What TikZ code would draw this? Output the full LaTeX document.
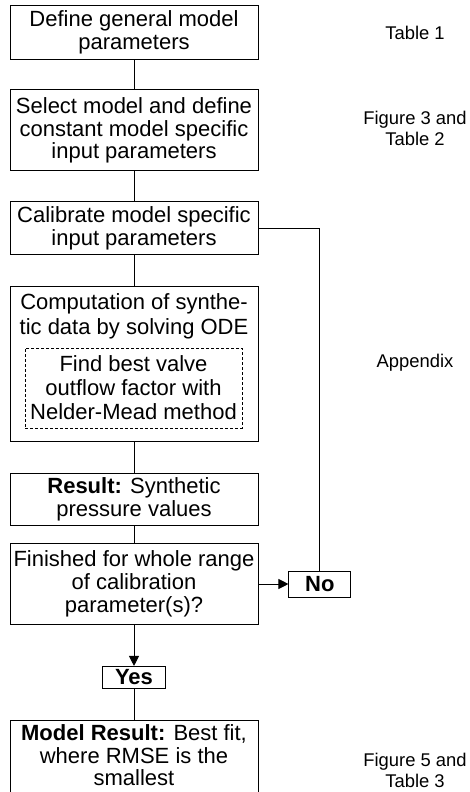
\documentclass[tikz,border=0pt]{standalone}
\usepackage{fontspec}
\setmainfont{Liberation Sans}
\usepackage{tikz}
\usetikzlibrary{arrows.meta, positioning}

\begin{document}
\begin{tikzpicture}[x=1pt, y=-1pt,
      stepbox/.style={rectangle, draw, line width=0.9pt, minimum width=248pt,
                      inner sep=0pt, align=center,
                      font=\fontsize{22}{22.8}\selectfont},
      bodytext/.style={align=center, inner sep=0pt,
                       font=\fontsize{22}{22.6}\selectfont},
      answer/.style={rectangle, draw, line width=0.9pt, inner sep=0pt,
                     font=\fontsize{22}{22.8}\selectfont\bfseries},
      dashbox/.style={rectangle, draw, dash pattern=on 3pt off 2pt,
                      line width=0.8pt, minimum width=217pt, minimum height=80pt,
                      inner sep=0pt, align=center,
                      font=\fontsize{22}{24}\selectfont},
      note/.style={align=center, font=\fontsize{18.4}{21}\selectfont},
      line/.style={line width=0.9pt},
      arr/.style={-{Triangle[length=10pt,width=10pt]}, line width=0.9pt},
      node distance=30pt
    ]
    \useasboundingbox (0,0) rectangle (470,792);

    % main column
    \node[stepbox, minimum height=54pt] (general) at (134,32)
        {Define general model\\parameters};
    \node[stepbox, minimum height=81pt, below=30pt of general] (select)
        {Select model and define\\constant model specific\\input parameters};
    \node[stepbox, minimum height=53pt, below=30pt of select] (calib)
        {Calibrate model specific\\input parameters};
    \node[stepbox, minimum height=155pt, below=31pt of calib] (ode) {};
    \node[bodytext, font=\fontsize{22}{25}\selectfont] (odetext) at (134,316)
        {Computation of synthe-\\tic data by solving ODE};
    \node[dashbox] (nelder) at (133.5,388)
        {Find best valve\\outflow factor with\\Nelder-Mead method};
    \node[stepbox, minimum height=52pt, below=31pt of ode] (synth)
        {\textbf{Result:} Synthetic\\pressure values};
    \node[stepbox, minimum height=81pt, below=17pt of synth] (finished)
        {Finished for whole range\\of calibration\\parameter(s)?};
    \node[answer, minimum width=62pt, minimum height=26pt, right=30pt of finished]
        (no) {No};
    \node[answer, minimum width=63pt, minimum height=22pt, below=41pt of finished]
        (yes) {Yes};
    \node[stepbox, minimum height=90pt, below=31pt of yes] (best) {};
    \node[bodytext] (besttext) at (134,755.5)
        {\textbf{Model Result:} Best fit,\\where RMSE is the\\smallest};

    % connectors
    \draw[line] (general) -- (select);
    \draw[line] (select) -- (calib);
    \draw[line] (calib) -- (ode);
    \draw[line] (ode) -- (synth);
    \draw[line] (synth) -- (finished);
    \draw[line] (calib.east) -| (no.north);
    \draw[arr] (finished) -- (no);
    \draw[arr] (finished) -- (yes);
    \draw[line] (yes) -- (best);

    % references on the right
    \node[note] (tab1) at (415,33) {Table 1};
    \node[note] (fig3) at (415,128) {Figure 3 and\\Table 2};
    \node[note] (app)  at (415,363) {Appendix};
    \node[note] (fig5) at (415,770) {Figure 5 and\\Table 3};
\end{tikzpicture}
\end{document}
